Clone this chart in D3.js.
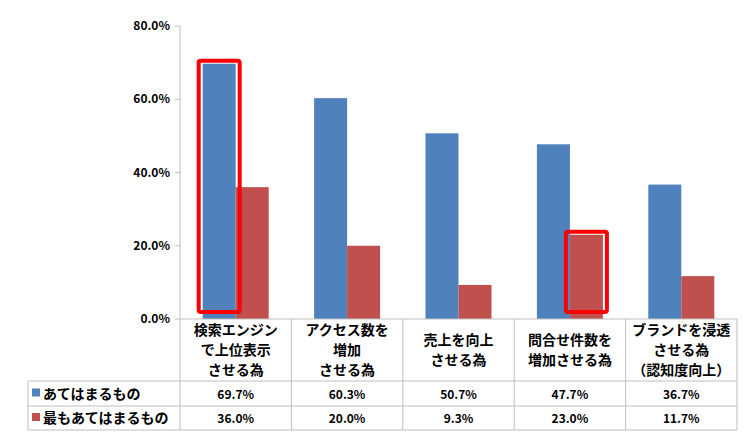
<!DOCTYPE html><html><head><meta charset="utf-8">
<script src="https://cdn.jsdelivr.net/npm/d3@7"></script>
<style>body{margin:0;background:#fff}text{font-family:"Noto Sans CJK JP",sans-serif;font-weight:bold}</style>
</head><body><svg id="c" width="754" height="445"></svg>
<script>
const categories=[["検索エンジン","で上位表示","させる為"],["アクセス数を","増加","させる為"],["売上を向上","させる為"],["問合せ件数を","増加させる為"],["ブランドを浸透","させる為","（認知度向上）"]];
const seriesNames=["あてはまるもの","最もあてはまるもの"];
const s1=[69.7,60.3,50.7,47.7,36.7];
const s2=[36.0,20.0,9.3,23.0,11.7];
const yTicks=[0,20,40,60,80];
const highlights=[[0,0],[3,1]];
const colors=["#4F81BD","#C0504D"];
const svg=d3.select("#c");
const L=180,R=737,T=26,B=319,tblL=28;
const x=d3.scaleBand().domain(d3.range(5)).range([L,R]);
const y=d3.scaleLinear().domain([0,80]).range([B,T]);
const grid="#BFBFBF";
svg.append("line").attr("x1",L).attr("x2",L).attr("y1",T).attr("y2",B).attr("stroke",grid);
yTicks.forEach(t=>{
 svg.append("line").attr("x1",L-5).attr("x2",L).attr("y1",y(t)).attr("y2",y(t)).attr("stroke",grid);
 svg.append("text").attr("x",L-10).attr("y",y(t)+4).attr("text-anchor","end").attr("font-size",12).text(t.toFixed(1)+"%");
});
const bw=33;
[s1,s2].forEach((s,si)=>{
 svg.selectAll(null).data(s).enter().append("rect")
  .attr("x",(d,i)=>x(i)+x.bandwidth()/2-bw+si*bw).attr("width",bw)
  .attr("y",d=>y(d)).attr("height",d=>B-y(d)).attr("fill",colors[si]);
});
highlights.forEach(([i,si])=>{
 const v=[s1,s2][si][i];
 const bx=x(i)+x.bandwidth()/2-bw+si*bw;
 svg.append("rect").attr("x",bx-4).attr("y",y(v)-3).attr("width",bw+8).attr("height",B-y(v)-4)
  .attr("fill","none").attr("stroke","#FF0000").attr("stroke-width",4).attr("rx",2);
});
const rows=[B,381,406,430];
svg.append("line").attr("x1",L).attr("x2",R).attr("y1",B).attr("y2",B).attr("stroke",grid);
[381,406,430].forEach(r=>svg.append("line").attr("x1",tblL).attr("x2",R).attr("y1",r).attr("y2",r).attr("stroke",grid));
svg.append("line").attr("x1",tblL).attr("x2",tblL).attr("y1",381).attr("y2",430).attr("stroke",grid);
d3.range(6).forEach(i=>{const xx=i<5?x(i):R;svg.append("line").attr("x1",xx).attr("x2",xx).attr("y1",B).attr("y2",430).attr("stroke",grid);});
categories.forEach((c,i)=>{
 const cy=(B+381)/2, lh=20, y0=cy-(c.length-1)*lh/2;
 c.forEach((ln,j)=>svg.append("text").attr("x",x(i)+x.bandwidth()/2).attr("y",y0+j*lh+5).attr("text-anchor","middle").attr("font-size",14).text(ln));
});
[s1,s2].forEach((s,si)=>{
 const ry=(rows[si+1]+rows[si+2])/2+5;
 svg.append("rect").attr("x",tblL+4).attr("y",ry-10).attr("width",8).attr("height",8).attr("fill",colors[si]);
 svg.append("text").attr("x",tblL+15).attr("y",ry).attr("font-size",14).text(seriesNames[si]);
 s.forEach((v,i)=>svg.append("text").attr("x",x(i)+x.bandwidth()/2).attr("y",ry).attr("text-anchor","middle").attr("font-size",12).text(v.toFixed(1)+"%"));
});
</script></body></html>
